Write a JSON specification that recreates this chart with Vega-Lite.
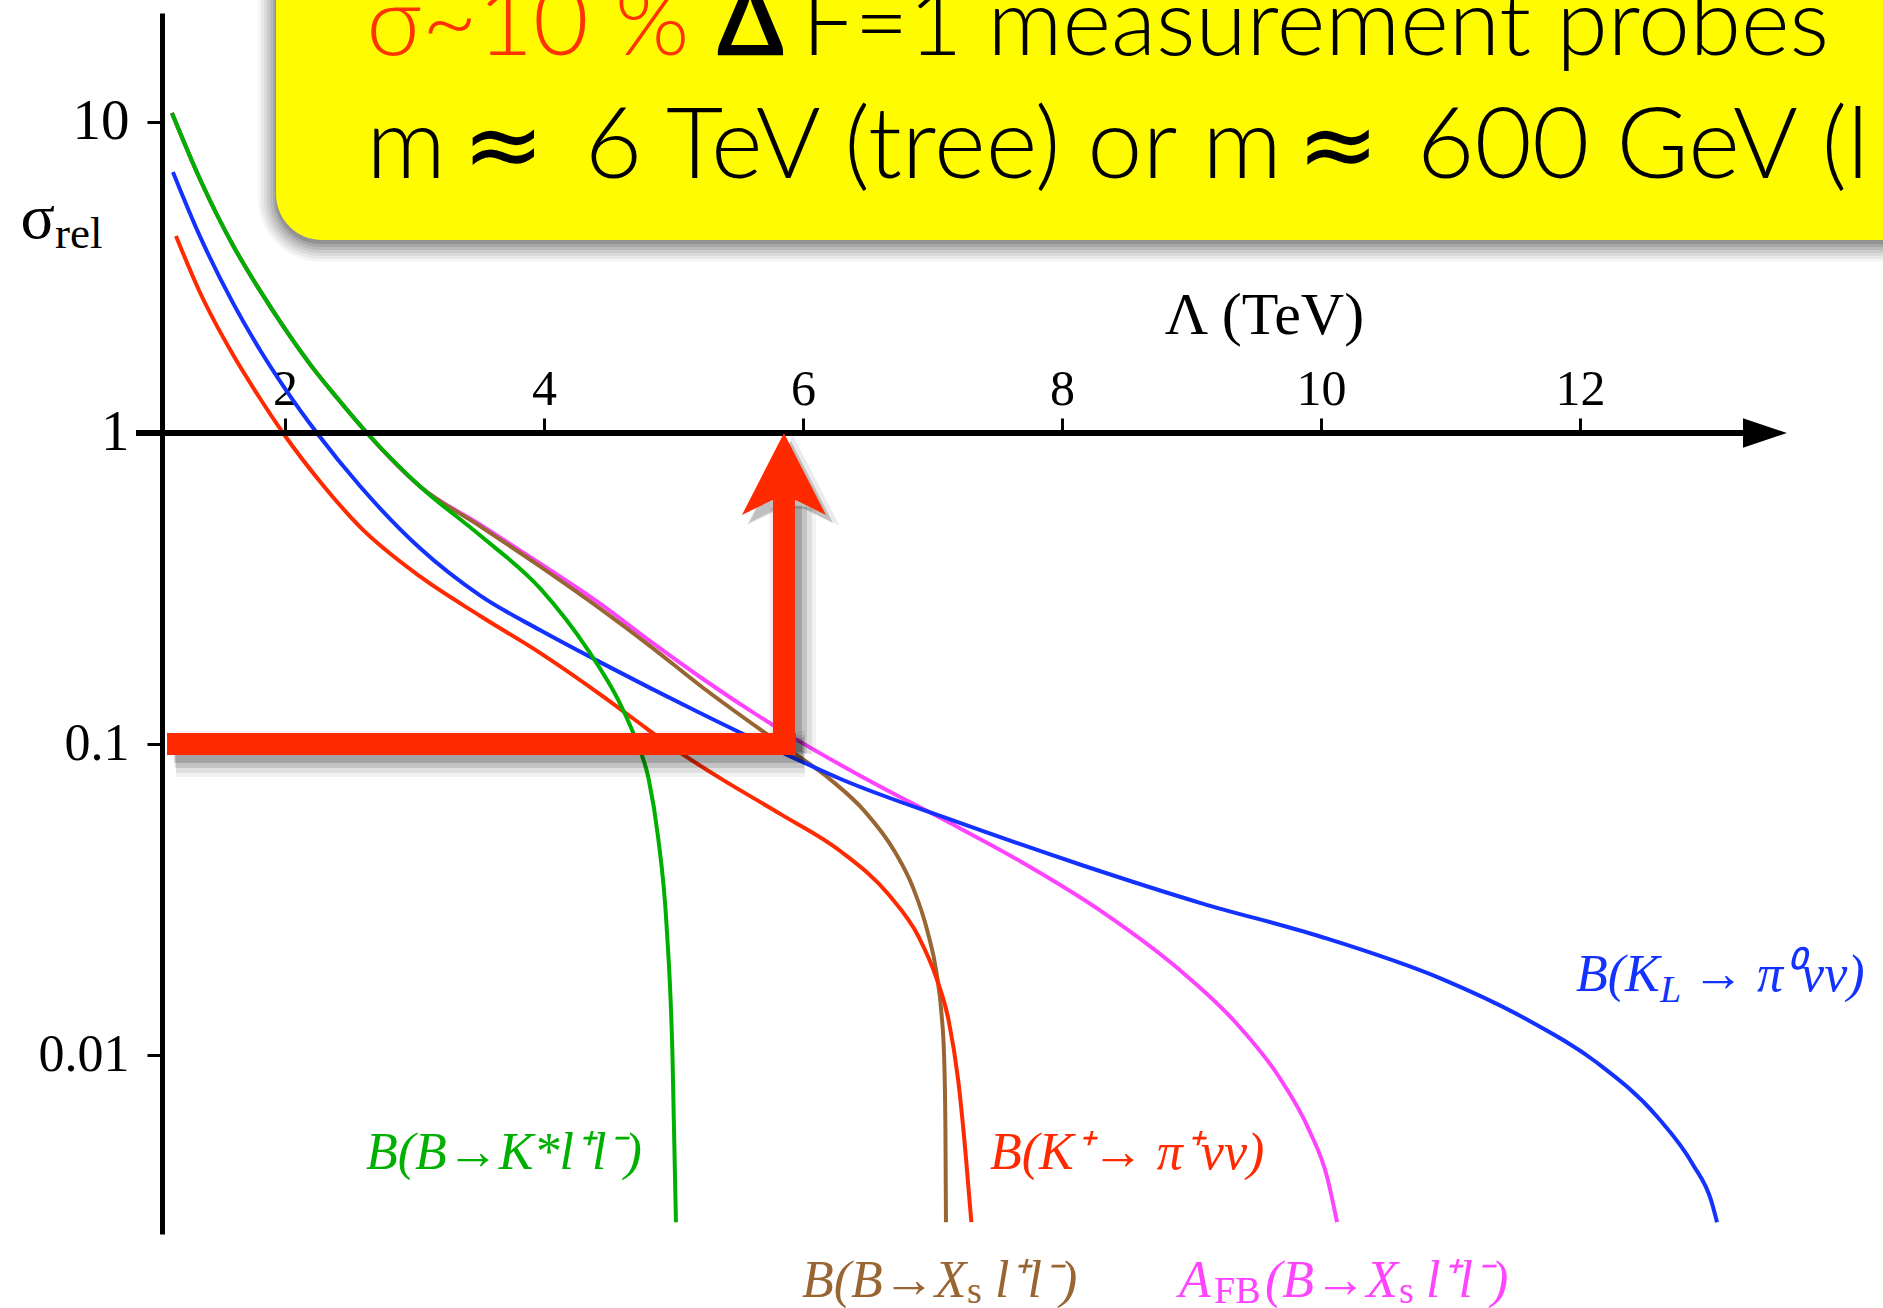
{
  "$schema": "https://vega.github.io/schema/vega-lite/v6.json",
  "width": 1677,
  "height": 1221,
  "autosize": {"type": "none"},
  "padding": {"left": 162, "top": 13, "right": 44, "bottom": 74},
  "background": "#ffffff",
  "config": {"view": {"stroke": null}, "axis": {"grid": false}},
  "datasets": {
    "curves": [
      {"series": "AFB", "L": 1.127, "s": 10.69}, {"series": "AFB", "L": 1.35, "s": 6.46}, {"series": "AFB", "L": 1.6, "s": 4.0}, {"series": "AFB", "L": 1.8, "s": 2.9}, {"series": "AFB", "L": 2.0, "s": 2.16}, {"series": "AFB", "L": 2.2, "s": 1.65}, {"series": "AFB", "L": 2.4, "s": 1.3}, {"series": "AFB", "L": 2.633, "s": 1.0}, {"series": "AFB", "L": 3.045, "s": 0.672}, {"series": "AFB", "L": 3.508, "s": 0.507}, {"series": "AFB", "L": 3.972, "s": 0.38}, {"series": "AFB", "L": 4.436, "s": 0.282}, {"series": "AFB", "L": 4.82, "s": 0.214}, {"series": "AFB", "L": 5.205, "s": 0.1642}, {"series": "AFB", "L": 5.827, "s": 0.111}, {"series": "AFB", "L": 6.541, "s": 0.075}, {"series": "AFB", "L": 7.125, "s": 0.056}, {"series": "AFB", "L": 7.681, "s": 0.0419}, {"series": "AFB", "L": 8.33, "s": 0.0285}, {"series": "AFB", "L": 8.887, "s": 0.0191}, {"series": "AFB", "L": 9.35, "s": 0.0126}, {"series": "AFB", "L": 9.675, "s": 0.00851}, {"series": "AFB", "L": 9.907, "s": 0.00575}, {"series": "AFB", "L": 10.046, "s": 0.00407}, {"series": "AFB", "L": 10.124, "s": 0.0029},
      {"series": "XsLL", "L": 1.127, "s": 10.69}, {"series": "XsLL", "L": 1.35, "s": 6.46}, {"series": "XsLL", "L": 1.6, "s": 4.0}, {"series": "XsLL", "L": 1.8, "s": 2.9}, {"series": "XsLL", "L": 2.0, "s": 2.16}, {"series": "XsLL", "L": 2.2, "s": 1.65}, {"series": "XsLL", "L": 2.4, "s": 1.3}, {"series": "XsLL", "L": 2.633, "s": 1.0}, {"series": "XsLL", "L": 3.045, "s": 0.672}, {"series": "XsLL", "L": 3.508, "s": 0.501}, {"series": "XsLL", "L": 3.972, "s": 0.372}, {"series": "XsLL", "L": 4.436, "s": 0.272}, {"series": "XsLL", "L": 4.82, "s": 0.2065}, {"series": "XsLL", "L": 5.205, "s": 0.1542}, {"series": "XsLL", "L": 5.827, "s": 0.1}, {"series": "XsLL", "L": 6.216, "s": 0.0766}, {"series": "XsLL", "L": 6.476, "s": 0.0608}, {"series": "XsLL", "L": 6.707, "s": 0.0452}, {"series": "XsLL", "L": 6.85, "s": 0.0345}, {"series": "XsLL", "L": 6.96, "s": 0.0251}, {"series": "XsLL", "L": 7.03, "s": 0.0185}, {"series": "XsLL", "L": 7.07, "s": 0.0135}, {"series": "XsLL", "L": 7.09, "s": 0.0098}, {"series": "XsLL", "L": 7.1, "s": 0.0056}, {"series": "XsLL", "L": 7.104, "s": 0.0029},
      {"series": "KLNuNu", "L": 1.135, "s": 6.9}, {"series": "KLNuNu", "L": 1.34, "s": 4.32}, {"series": "KLNuNu", "L": 1.6, "s": 2.61}, {"series": "KLNuNu", "L": 1.8, "s": 1.87}, {"series": "KLNuNu", "L": 2.0, "s": 1.39}, {"series": "KLNuNu", "L": 2.247, "s": 1.0}, {"series": "KLNuNu", "L": 2.581, "s": 0.674}, {"series": "KLNuNu", "L": 3.045, "s": 0.425}, {"series": "KLNuNu", "L": 3.508, "s": 0.3}, {"series": "KLNuNu", "L": 3.972, "s": 0.232}, {"series": "KLNuNu", "L": 4.436, "s": 0.183}, {"series": "KLNuNu", "L": 5.205, "s": 0.1258}, {"series": "KLNuNu", "L": 5.827, "s": 0.0944}, {"series": "KLNuNu", "L": 6.309, "s": 0.0766}, {"series": "KLNuNu", "L": 7.125, "s": 0.0574}, {"series": "KLNuNu", "L": 8.145, "s": 0.0409}, {"series": "KLNuNu", "L": 9.072, "s": 0.0308}, {"series": "KLNuNu", "L": 10.0, "s": 0.024}, {"series": "KLNuNu", "L": 10.927, "s": 0.0176}, {"series": "KLNuNu", "L": 11.576, "s": 0.0131}, {"series": "KLNuNu", "L": 12.132, "s": 0.00944}, {"series": "KLNuNu", "L": 12.596, "s": 0.00633}, {"series": "KLNuNu", "L": 12.874, "s": 0.00443}, {"series": "KLNuNu", "L": 13.013, "s": 0.0034}, {"series": "KLNuNu", "L": 13.058, "s": 0.0029},
      {"series": "KpNuNu", "L": 1.158, "s": 4.3}, {"series": "KpNuNu", "L": 1.34, "s": 2.85}, {"series": "KpNuNu", "L": 1.6, "s": 1.78}, {"series": "KpNuNu", "L": 1.8, "s": 1.305}, {"series": "KpNuNu", "L": 1.985, "s": 1.0}, {"series": "KpNuNu", "L": 2.303, "s": 0.672}, {"series": "KpNuNu", "L": 2.581, "s": 0.498}, {"series": "KpNuNu", "L": 3.045, "s": 0.345}, {"series": "KpNuNu", "L": 3.508, "s": 0.258}, {"series": "KpNuNu", "L": 3.972, "s": 0.196}, {"series": "KpNuNu", "L": 4.436, "s": 0.1442}, {"series": "KpNuNu", "L": 4.686, "s": 0.121}, {"series": "KpNuNu", "L": 4.992, "s": 0.0975}, {"series": "KpNuNu", "L": 5.363, "s": 0.0775}, {"series": "KpNuNu", "L": 5.827, "s": 0.0595}, {"series": "KpNuNu", "L": 6.29, "s": 0.0452}, {"series": "KpNuNu", "L": 6.661, "s": 0.0328}, {"series": "KpNuNu", "L": 6.893, "s": 0.024}, {"series": "KpNuNu", "L": 7.032, "s": 0.0176}, {"series": "KpNuNu", "L": 7.125, "s": 0.0129}, {"series": "KpNuNu", "L": 7.199, "s": 0.00826}, {"series": "KpNuNu", "L": 7.255, "s": 0.00485}, {"series": "KpNuNu", "L": 7.3, "s": 0.0029},
      {"series": "KstarLL", "L": 1.127, "s": 10.69}, {"series": "KstarLL", "L": 1.35, "s": 6.46}, {"series": "KstarLL", "L": 1.6, "s": 4.0}, {"series": "KstarLL", "L": 1.8, "s": 2.9}, {"series": "KstarLL", "L": 2.0, "s": 2.16}, {"series": "KstarLL", "L": 2.2, "s": 1.65}, {"series": "KstarLL", "L": 2.4, "s": 1.3}, {"series": "KstarLL", "L": 2.633, "s": 1.0}, {"series": "KstarLL", "L": 3.045, "s": 0.672}, {"series": "KstarLL", "L": 3.508, "s": 0.468}, {"series": "KstarLL", "L": 3.972, "s": 0.316}, {"series": "KstarLL", "L": 4.343, "s": 0.1995}, {"series": "KstarLL", "L": 4.575, "s": 0.138}, {"series": "KstarLL", "L": 4.714, "s": 0.102}, {"series": "KstarLL", "L": 4.807, "s": 0.0776}, {"series": "KstarLL", "L": 4.881, "s": 0.0501}, {"series": "KstarLL", "L": 4.946, "s": 0.0263}, {"series": "KstarLL", "L": 4.992, "s": 0.01}, {"series": "KstarLL", "L": 5.019, "s": 0.0029}
    ],
    "box": [{"L": 1.9305, "L2": 16, "s": 4.174, "s2": 100}],
    "arrow": [
      {"part": "bar", "L": 1.089, "L2": 5.946, "s": 0.1, "s2": 0.1},
      {"part": "shaft", "L": 5.853, "L2": 5.853, "s": 0.1, "s2": 0.62}
    ]
  },
  "encoding": {
    "x": {
      "field": "L", "type": "quantitative",
      "scale": {"domain": [1.0502, 14], "nice": false, "zero": false},
      "axis": {
        "orient": "top", "offset": -420, "domain": false,
        "values": [2, 4, 6, 8, 10, 12],
        "tickSize": 15, "tickWidth": 3, "tickColor": "#000000",
        "labelFont": "Liberation Serif", "labelFontSize": 50, "labelColor": "#000000",
        "labelPadding": 14, "labelBaseline": "alphabetic", "labelAngle": 0, "labelOverlap": false, "labelFlush": false,
        "title": "Λ (TeV)", "titleFont": "Liberation Serif", "titleFontSize": 60, "titleFontWeight": "normal", "titleColor": "#000000",
        "titleX": 1102, "titleY": -100, "titleAlign": "center", "titleBaseline": "alphabetic", "titleAngle": 0
      }
    },
    "y": {
      "field": "s", "type": "quantitative",
      "scale": {"type": "log", "domain": [0.002657, 22.41], "nice": false},
      "axis": {
        "orient": "left", "domain": true, "domainColor": "#000000", "domainWidth": 5,
        "values": [0.01, 0.1, 1, 10],
        "labelExpr": "format(datum.value, '~g')",
        "tickSize": 15, "tickWidth": 3, "tickColor": "#000000",
        "labelFont": "Liberation Serif",
        "labelFontSize": {"condition": {"test": "datum.value >= 1", "value": 57}, "value": 52},
        "labelColor": "#000000",
        "labelPadding": 18, "labelBaseline": "middle", "labelOverlap": false, "labelFlush": false,
        "title": "σ", "titleFont": "Liberation Serif", "titleFontSize": 64, "titleFontWeight": "normal", "titleColor": "#000000",
        "titleAngle": 0, "titleX": -142, "titleY": 224, "titleAlign": "left", "titleBaseline": "alphabetic"
      }
    }
  },
  "layer": [
    {"data": {"name": "box"}, "mark": {"type": "rect", "color": "#000000", "opacity": 0.04, "cornerRadius": 64, "xOffset": -18, "yOffset": 22}, "encoding": {"x2": {"field": "L2"}, "y2": {"field": "s2"}}},
    {"data": {"name": "box"}, "mark": {"type": "rect", "color": "#000000", "opacity": 0.05, "cornerRadius": 60, "xOffset": -15, "yOffset": 19}, "encoding": {"x2": {"field": "L2"}, "y2": {"field": "s2"}}},
    {"data": {"name": "box"}, "mark": {"type": "rect", "color": "#000000", "opacity": 0.06, "cornerRadius": 57, "xOffset": -12, "yOffset": 16}, "encoding": {"x2": {"field": "L2"}, "y2": {"field": "s2"}}},
    {"data": {"name": "box"}, "mark": {"type": "rect", "color": "#000000", "opacity": 0.07, "cornerRadius": 54, "xOffset": -9, "yOffset": 13}, "encoding": {"x2": {"field": "L2"}, "y2": {"field": "s2"}}},
    {"data": {"name": "box"}, "mark": {"type": "rect", "color": "#000000", "opacity": 0.08, "cornerRadius": 51, "xOffset": -6, "yOffset": 10}, "encoding": {"x2": {"field": "L2"}, "y2": {"field": "s2"}}},
    {"data": {"name": "box"}, "mark": {"type": "rect", "color": "#000000", "opacity": 0.1, "cornerRadius": 48, "xOffset": -3, "yOffset": 7}, "encoding": {"x2": {"field": "L2"}, "y2": {"field": "s2"}}},
    {"data": {"name": "box"}, "mark": {"type": "rect", "color": "#000000", "opacity": 0.12, "cornerRadius": 46, "xOffset": -1, "yOffset": 4}, "encoding": {"x2": {"field": "L2"}, "y2": {"field": "s2"}}},
    {"data": {"name": "box"}, "mark": {"type": "rect", "color": "#fffb00", "opacity": 1, "cornerRadius": 46}, "encoding": {"x2": {"field": "L2"}, "y2": {"field": "s2"}}},
    {
      "data": {"values": [{"text": "σ~10 %", "L": 2.628, "s": 16.42}]},
      "mark": {"type": "text", "font": "Lato", "fontSize": 96, "fontWeight": 300, "color": "#ff3300", "align": "left", "baseline": "alphabetic"},
      "encoding": {"text": {"field": "text", "type": "nominal"}}
    },
    {
      "data": {"values": [{"text": "Δ", "L": 5.336, "s": 16.42}]},
      "mark": {"type": "text", "font": "Lato", "fontSize": 96, "fontWeight": 700, "color": "#000000", "align": "left", "baseline": "alphabetic"},
      "encoding": {"text": {"field": "text", "type": "nominal"}}
    },
    {
      "data": {"values": [{"text": "F=1 measurement probes", "L": 5.992, "s": 16.42}]},
      "mark": {"type": "text", "font": "Lato", "fontSize": 93, "fontWeight": 300, "color": "#000000", "align": "left", "baseline": "alphabetic"},
      "encoding": {"text": {"field": "text", "type": "nominal"}}
    },
    {
      "data": {"values": [
        {"text": "m", "L": 2.628, "s": 6.607},
        {"text": "6 TeV (tree) or m", "L": 4.315, "s": 6.607},
        {"text": "600 GeV (l", "L": 10.742, "s": 6.607}
      ]},
      "mark": {"type": "text", "font": "Lato", "fontSize": 99, "fontWeight": 300, "color": "#000000", "align": "left", "baseline": "alphabetic"},
      "encoding": {"text": {"field": "text", "type": "nominal"}}
    },
    {
      "data": {"values": [
        {"text": "≈", "L": 3.369, "s": 6.607},
        {"text": "≈", "L": 9.815, "s": 6.607}
      ]},
      "mark": {"type": "text", "font": "DejaVu Sans", "fontSize": 98, "fontWeight": "normal", "color": "#000000", "align": "left", "baseline": "alphabetic"},
      "encoding": {"text": {"field": "text", "type": "nominal"}}
    },
    {
      "data": {"name": "curves"},
      "mark": {"type": "line", "strokeWidth": 4, "interpolate": "monotone"},
      "encoding": {
        "color": {
          "field": "series", "type": "nominal",
          "scale": {"domain": ["AFB", "XsLL", "KLNuNu", "KpNuNu", "KstarLL"], "range": ["#ff44ff", "#996633", "#1432ff", "#ff2a00", "#00b000"]},
          "legend": null
        }
      }
    },
    {
      "data": {"values": [{"text": "rel", "L": 0.2239, "s": 3.935}]},
      "mark": {"type": "text", "font": "Liberation Serif", "fontSize": 45, "color": "#000000", "align": "left", "baseline": "alphabetic"},
      "encoding": {"text": {"field": "text", "type": "nominal"}}
    },
    {
      "data": {"values": [{"L": 0.8494, "L2": 13.3, "s": 1}]},
      "mark": {"type": "rule", "color": "#000000", "strokeWidth": 6, "strokeCap": "butt"},
      "encoding": {"x2": {"field": "L2"}}
    },
    {
      "data": {"values": [{"L": 13.598, "s": 1}]},
      "mark": {"type": "point", "shape": "M0,0L-1.5,-0.5L-1.5,0.5Z", "size": 3434, "filled": true, "color": "#000000", "opacity": 1, "strokeWidth": 0}
    },
    {
      "data": {"name": "arrow"},
      "mark": {"type": "rule", "color": "#000000", "opacity": 0.05, "strokeWidth": 46, "strokeCap": "butt", "xOffset": 9, "x2Offset": 9, "yOffset": 10, "y2Offset": 10},
      "encoding": {"x2": {"field": "L2"}, "y2": {"field": "s2"}}
    },
    {
      "data": {"name": "arrow"},
      "mark": {"type": "rule", "color": "#000000", "opacity": 0.08, "strokeWidth": 38, "strokeCap": "butt", "xOffset": 9, "x2Offset": 9, "yOffset": 10, "y2Offset": 10},
      "encoding": {"x2": {"field": "L2"}, "y2": {"field": "s2"}}
    },
    {
      "data": {"name": "arrow"},
      "mark": {"type": "rule", "color": "#000000", "opacity": 0.12, "strokeWidth": 30, "strokeCap": "butt", "xOffset": 8, "x2Offset": 8, "yOffset": 9, "y2Offset": 9},
      "encoding": {"x2": {"field": "L2"}, "y2": {"field": "s2"}}
    },
    {
      "data": {"name": "arrow"},
      "mark": {"type": "rule", "color": "#000000", "opacity": 0.16, "strokeWidth": 22, "strokeCap": "butt", "xOffset": 7, "x2Offset": 7, "yOffset": 8, "y2Offset": 8},
      "encoding": {"x2": {"field": "L2"}, "y2": {"field": "s2"}}
    },
    {
      "data": {"values": [{"L": 5.853, "s": 1}]},
      "mark": {"type": "point", "shape": "M0,0L1,1.952L0.274,1.595L-0.274,1.595L-1,1.952Z", "size": 8600, "filled": true, "color": "#000000", "opacity": 0.08, "strokeWidth": 0, "xOffset": 9, "yOffset": 2}
    },
    {
      "data": {"values": [{"L": 5.853, "s": 1}]},
      "mark": {"type": "point", "shape": "M0,0L1,1.952L0.274,1.595L-0.274,1.595L-1,1.952Z", "size": 7056, "filled": true, "color": "#000000", "opacity": 0.18, "strokeWidth": 0, "xOffset": 7, "yOffset": 8}
    },
    {
      "data": {"name": "arrow"},
      "mark": {"type": "rule", "color": "#ff2a00", "strokeWidth": 22, "strokeCap": "butt"},
      "encoding": {"x2": {"field": "L2"}, "y2": {"field": "s2"}}
    },
    {
      "data": {"values": [{"L": 5.853, "s": 1}]},
      "mark": {"type": "point", "shape": "M0,0L1,1.952L0.274,1.595L-0.274,1.595L-1,1.952Z", "size": 7056, "filled": true, "color": "#ff2a00", "opacity": 1, "strokeWidth": 0}
    },
    {
      "data": {"values": [
        {"series": "KstarLL", "label": "B(B→K*l⁺l⁻)", "L": 2.6255, "s": 0.0043},
        {"series": "KpNuNu", "label": "B(K⁺→ π⁺νν)", "L": 7.444, "s": 0.0043},
        {"series": "XsLL", "label": "B(B→X", "L": 5.992, "s": 0.001667},
        {"series": "XsLL", "label": "l⁺l⁻)", "L": 7.483, "s": 0.001667},
        {"series": "AFB", "label": "A", "L": 8.903, "s": 0.001667},
        {"series": "AFB", "label": "(B→X", "L": 9.568, "s": 0.001667},
        {"series": "AFB", "label": "l⁺l⁻)", "L": 10.811, "s": 0.001667},
        {"series": "KLNuNu", "label": "B(K", "L": 11.969, "s": 0.01606},
        {"series": "KLNuNu", "label": "→ π⁰νν)", "L": 12.865, "s": 0.01606}
      ]},
      "mark": {"type": "text", "font": "Liberation Serif", "fontSize": 52, "fontStyle": "italic", "align": "left", "baseline": "alphabetic"},
      "encoding": {
        "text": {"field": "label", "type": "nominal"},
        "color": {"field": "series", "type": "nominal", "scale": {"domain": ["AFB", "XsLL", "KLNuNu", "KpNuNu", "KstarLL"], "range": ["#ff44ff", "#996633", "#1432ff", "#ff2a00", "#00b000"]}, "legend": null}
      }
    },
    {
      "data": {"values": [
        {"series": "XsLL", "label": "s", "L": 7.266, "s": 0.001594},
        {"series": "AFB", "label": "FB", "L": 9.174, "s": 0.001594},
        {"series": "AFB", "label": "s", "L": 10.602, "s": 0.001594}
      ]},
      "mark": {"type": "text", "font": "Liberation Serif", "fontSize": 38, "align": "left", "baseline": "alphabetic"},
      "encoding": {
        "text": {"field": "label", "type": "nominal"},
        "color": {"field": "series", "type": "nominal", "scale": {"domain": ["AFB", "XsLL", "KLNuNu", "KpNuNu", "KstarLL"], "range": ["#ff44ff", "#996633", "#1432ff", "#ff2a00", "#00b000"]}, "legend": null}
      }
    },
    {
      "data": {"values": [
        {"series": "KLNuNu", "label": "L", "L": 12.618, "s": 0.0148}
      ]},
      "mark": {"type": "text", "font": "Liberation Serif", "fontSize": 38, "fontStyle": "italic", "align": "left", "baseline": "alphabetic"},
      "encoding": {
        "text": {"field": "label", "type": "nominal"},
        "color": {"field": "series", "type": "nominal", "scale": {"domain": ["AFB", "XsLL", "KLNuNu", "KpNuNu", "KstarLL"], "range": ["#ff44ff", "#996633", "#1432ff", "#ff2a00", "#00b000"]}, "legend": null}
      }
    }
  ]
}
